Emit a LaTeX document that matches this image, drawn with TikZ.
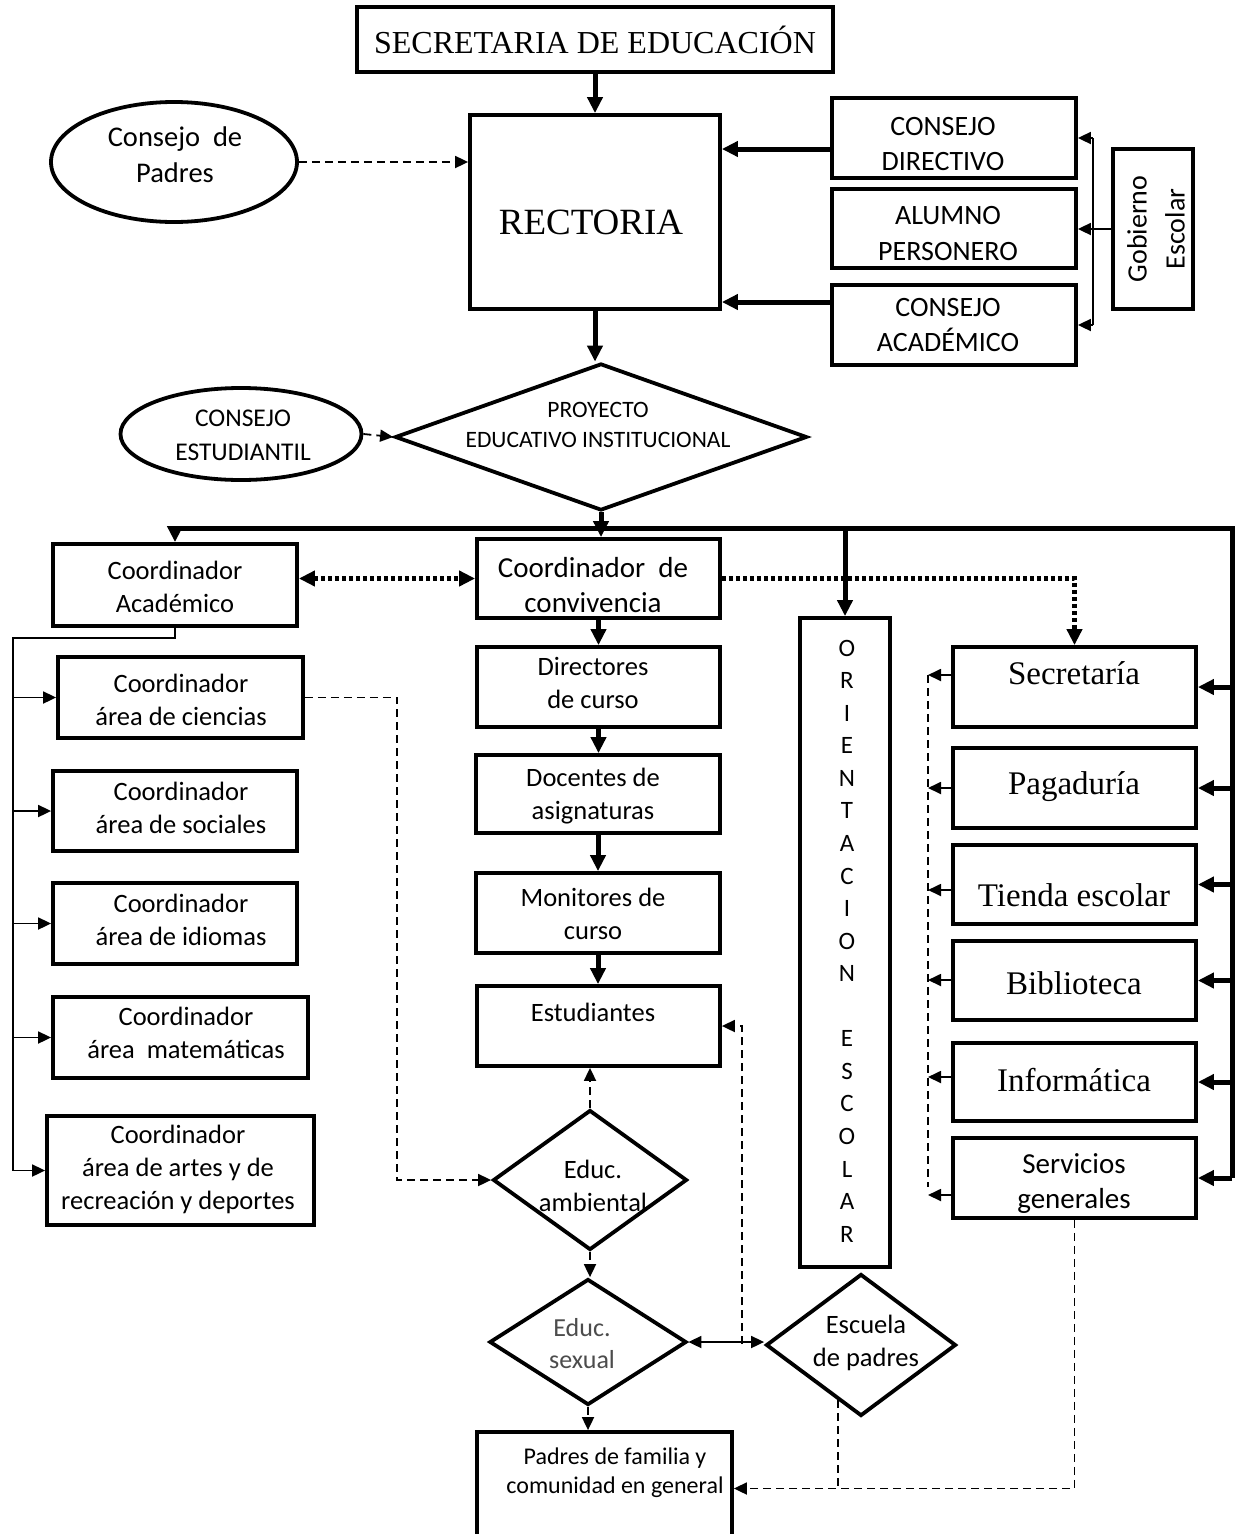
\documentclass[tikz,border=0pt]{standalone}
\usepackage{fontspec}
\setmainfont{Carlito}
\newfontfamily\serifA{Liberation Serif}
\usetikzlibrary{arrows.meta,shapes.geometric,calc}
\begin{document}
\begin{tikzpicture}[x=1pt,y=-1pt,
  bx/.style={draw,line width=3.8pt,rectangle,inner sep=0pt},
  dm/.style={draw,line width=3.8pt,diamond,inner sep=0pt},
  el/.style={draw,line width=3.8pt,ellipse,inner sep=0pt},
  tx/.style={align=center,inner sep=0pt,font=\fontsize{26.5}{33}\selectfont},
  sf/.style={inner sep=0pt,font=\serifA\fontsize{33}{40}\selectfont},
  bigtip/.tip={Triangle[length=16pt,width=15pt]},
  smtip/.tip={Triangle[length=13pt,width=12pt]},
  thk/.style={line width=5pt,-bigtip},
  thn/.style={line width=1.8pt},
  dsh/.style={line width=1.8pt,dash pattern=on 8pt off 5pt},
  dot/.style={line width=5pt,dash pattern=on 4pt off 3pt}
]
\fill[white] (0,0) rectangle (1235,1534);
\useasboundingbox (0,0) rectangle (1235,1534);

% ---------- top ----------
\node[bx,minimum width=476pt,minimum height=65pt] (sec) at (595,39.5)
  {\serifA\fontsize{32}{38}\selectfont SECRETARIA DE EDUCACIÓN};
\node[bx,minimum width=250pt,minimum height=194pt] (rect) at (595,212) {};
\node[inner sep=0pt,font=\serifA\fontsize{37}{44}\selectfont] (rect-t) at (591,222) {RECTORIA};

\node[el,minimum width=246pt,minimum height=120pt] (cpad) at (174,162) {};
\node[tx,font=\fontsize{28.5}{36}\selectfont] (cpad-t) at (175,155) {Consejo~ de\\Padres};

\node[bx,minimum width=244pt,minimum height=80pt] (cdir) at (954,138) {};
\node[tx,font=\fontsize{28}{35}\selectfont] (cdir-t) at (943,144) {CONSEJO\\DIRECTIVO};
\node[bx,minimum width=244pt,minimum height=79pt] (alum) at (954,228.5) {};
\node[tx,font=\fontsize{28}{36}\selectfont] (alum-t) at (948,234) {ALUMNO\\PERSONERO};
\node[bx,minimum width=244pt,minimum height=80pt] (cacad) at (954,325) {};
\node[tx,font=\fontsize{28}{35}\selectfont] (cacad-t) at (948,325) {CONSEJO\\ACADÉMICO};
\node[bx,minimum width=80pt,minimum height=160pt] (gob) at (1153,229) {};
\node[tx,rotate=90,font=\fontsize{28}{38}\selectfont] (gob-t) at (1156,229) {Gobierno\\Escolar};

\node[dm,minimum width=412pt,minimum height=147pt] (pei) at (601,437) {};
\node[tx,font=\fontsize{23.5}{30}\selectfont] (pei-t) at (598,425) {PROYECTO\\EDUCATIVO INSTITUCIONAL};
\node[el,minimum width=241pt,minimum height=92pt] (cest) at (241,434) {};
\node[tx,font=\fontsize{25.5}{34}\selectfont] (cest-t) at (243,435) {CONSEJO\\ESTUDIANTIL};

% ---------- central column ----------
\node[bx,minimum width=243pt,minimum height=79pt] (conv) at (598.5,578.5) {};
\node[tx,font=\fontsize{29}{35}\selectfont] (conv-t) at (593,585) {Coordinador~ de\\convivencia};
\node[bx,minimum width=243pt,minimum height=80pt] (dir) at (598.5,687) {};
\node[tx] (dir-t) at (593,683) {Directores\\de curso};
\node[bx,minimum width=244pt,minimum height=78pt] (doc) at (598,794) {};
\node[tx] (doc-t) at (593,796) {Docentes de\\asignaturas};
\node[bx,minimum width=244pt,minimum height=80pt] (mon) at (598,913) {};
\node[tx] (mon-t) at (593,914) {Monitores de\\curso};
\node[bx,minimum width=243pt,minimum height=80pt] (est) at (598.5,1026) {};
\node[tx] (est-t) at (593,1012) {Estudiantes};
\node[dm,minimum width=194pt,minimum height=140pt] (amb) at (590,1180) {};
\node[tx] (amb-t) at (593,1186) {Educ.\\ambiental};
\node[dm,minimum width=197pt,minimum height=126pt] (sex) at (588,1342) {};
\node[tx,text=black!70,font=\fontsize{26}{32}\selectfont] (sex-t) at (582,1344) {Educ.\\sexual};
\node[dm,minimum width=190pt,minimum height=142pt] (esc) at (861,1345) {};
\node[tx] (esc-t) at (866,1343) {Escuela\\de padres};
\node[bx,minimum width=255pt,minimum height=113pt] (pad) at (604.5,1488.5) {};
\node[tx,font=\fontsize{24}{29}\selectfont] (pad-t) at (615,1473) {Padres de familia y\\comunidad en general};

% ---------- left column ----------
\node[bx,minimum width=244pt,minimum height=82pt] (cac) at (175,585) {};
\node[tx] (cac-t) at (175,587) {Coordinador\\Académico};
\node[bx,minimum width=245pt,minimum height=81pt] (cie) at (180.5,697.5) {};
\node[tx] (cie-t) at (181,700) {Coordinador\\área de ciencias};
\node[bx,minimum width=244pt,minimum height=80pt] (soc) at (175,811) {};
\node[tx] (soc-t) at (181,808) {Coordinador\\área de sociales};
\node[bx,minimum width=244pt,minimum height=81pt] (idi) at (175,923.5) {};
\node[tx] (idi-t) at (181,920) {Coordinador\\área de idiomas};
\node[bx,minimum width=255pt,minimum height=81pt] (mat) at (180.5,1037.5) {};
\node[tx] (mat-t) at (186,1033) {Coordinador\\área~ matemáticas};
\node[bx,minimum width=267pt,minimum height=109pt] (art) at (180.5,1170.5) {};
\node[tx] (art-t) at (178,1169) {Coordinador\\área de artes y de\\recreación y deportes};

% ---------- right column ----------
\node[bx,minimum width=90pt,minimum height=649pt] (ori) at (845,942.5) {};
\node[tx,font=\fontsize{25}{32.56}\selectfont] (ori-t) at (847,941)
  {O\\R\\I\\E\\N\\T\\A\\C\\I\\O\\N\\\mbox{}\\E\\S\\C\\O\\L\\A\\R};
\node[bx,minimum width=243pt,minimum height=80pt] (secr) at (1074.5,687) {};
\node[sf] (secr-t) at (1074,673) {Secretaría};
\node[bx,minimum width=243pt,minimum height=80pt] (pag) at (1074.5,788) {};
\node[sf] (pag-t) at (1074,787) {Pagaduría};
\node[bx,minimum width=243pt,minimum height=79pt] (tie) at (1074.5,884.5) {};
\node[sf] (tie-t) at (1074,895) {Tienda escolar};
\node[bx,minimum width=243pt,minimum height=79pt] (bib) at (1074.5,980.5) {};
\node[sf] (bib-t) at (1074,983) {Biblioteca};
\node[bx,minimum width=243pt,minimum height=78pt] (inf) at (1074.5,1082) {};
\node[sf] (inf-t) at (1074,1080) {Informática};
\node[bx,minimum width=243pt,minimum height=80pt] (ser) at (1074.5,1178) {};
\node[tx,font=\fontsize{29}{35}\selectfont] (ser-t) at (1074,1184) {Servicios\\generales};

% ---------- coordinates ----------
\coordinate (ya) at (0,149);
\coordinate (yb) at (0,302);
\coordinate (gt) at (1093,138);
\coordinate (gb) at (1093,325);
\coordinate (bus) at (601,528);
\coordinate (rb) at (1232,1178);
\coordinate (lt) at (13,638);
\coordinate (cx) at (397,0);
\coordinate (ej) at (742,1344);
\coordinate (escp) at ($(esc.west)!0.76!(esc.south)$);
\coordinate (da) at (928,675);
\coordinate (db) at (928,788);
\coordinate (dc) at (928,890);
\coordinate (dd) at (928,980);
\coordinate (de) at (928,1077);
\coordinate (df) at (928,1195);
\coordinate (dz) at (928,1187);

% ---------- connectors: top ----------
\draw[thk] (sec.south) -- (rect.north);
\draw[dsh,-smtip] (cpad.east) -- (cpad.east -| rect.west);
\draw[thk] (cdir.west |- ya) -- (rect.east |- ya);
\draw[thk] (cacad.west |- yb) -- (rect.east |- yb);
\draw[thk] (rect.south) -- (rect.south |- pei.north);
\draw[dsh,-smtip] (cest.east) -- (pei.west);
\draw[thn] (gt) -- (gb);
\draw[thn,-smtip] (gob.west) -- (gob.west -| alum.east);
\draw[thn,-smtip] (gt) -- (cdir.east);
\draw[thn,-smtip] (gb) -- (cacad.east);

% ---------- bus ----------
\draw[thk] (pei.south) -- (pei.south |- conv.north);
\draw[thk] (bus) -| (cac.north);
\draw[line width=5pt] (bus) -| (rb);
\draw[thk] (ori.north |- bus) -- (ori.north);
\foreach \n in {secr,pag,tie,bib,inf,ser}
  \draw[thk] (rb |- \n.east) -- (\n.east);

% ---------- dotted ----------
\draw[dot,bigtip-bigtip] (conv.west -| cac.east) -- (conv.west);
\draw[dot,-bigtip] (conv.east) -| (secr.north);

% ---------- left tree ----------
\draw[thn] (cac.south) |- (lt) -- (lt |- art.west);
\foreach \n in {cie,soc,idi,mat,art}
  \draw[thn,-smtip] (lt |- \n.west) -- (\n.west);

% ---------- central chain ----------
\draw[thk] (conv.south) -- (dir.north);
\draw[thk] (dir.south) -- (dir.south |- doc.north);
\draw[thk] (doc.south) -- (doc.south |- mon.north);
\draw[thk] (mon.south) -- (mon.south |- est.north);

% ---------- dashed ----------
\draw[dsh,-smtip] (cie.east) -| (cx |- amb.west) -- (amb.west);
\draw[dsh,-smtip] (amb.north) -- (amb.north |- est.south);
\draw[dsh,-smtip] (amb.south) -- (amb.south |- sex.north);
\draw[dsh,-smtip] (sex.south) -- (sex.south |- pad.north);
\draw[thn,smtip-smtip] (sex.east) -- (sex.east -| esc.west);
\draw[dsh,-smtip] (ej) |- (est.east);
\draw[dsh] (escp) -- (escp |- pad.east);
\draw[dsh,-smtip] (ser.south) |- (pad.east);

% ---------- right dashed ----------
\draw[dsh] (da) -- (dz);
\draw[thn,-smtip] (secr.west |- da) -- (da);
\draw[thn,-smtip] (pag.west |- db) -- (db);
\draw[thn,-smtip] (tie.west |- dc) -- (dc);
\draw[thn,-smtip] (bib.west |- dd) -- (dd);
\draw[thn,-smtip] (inf.west |- de) -- (de);
\draw[thn,-smtip] (ser.west |- df) -- (df);
\end{tikzpicture}
\end{document}
